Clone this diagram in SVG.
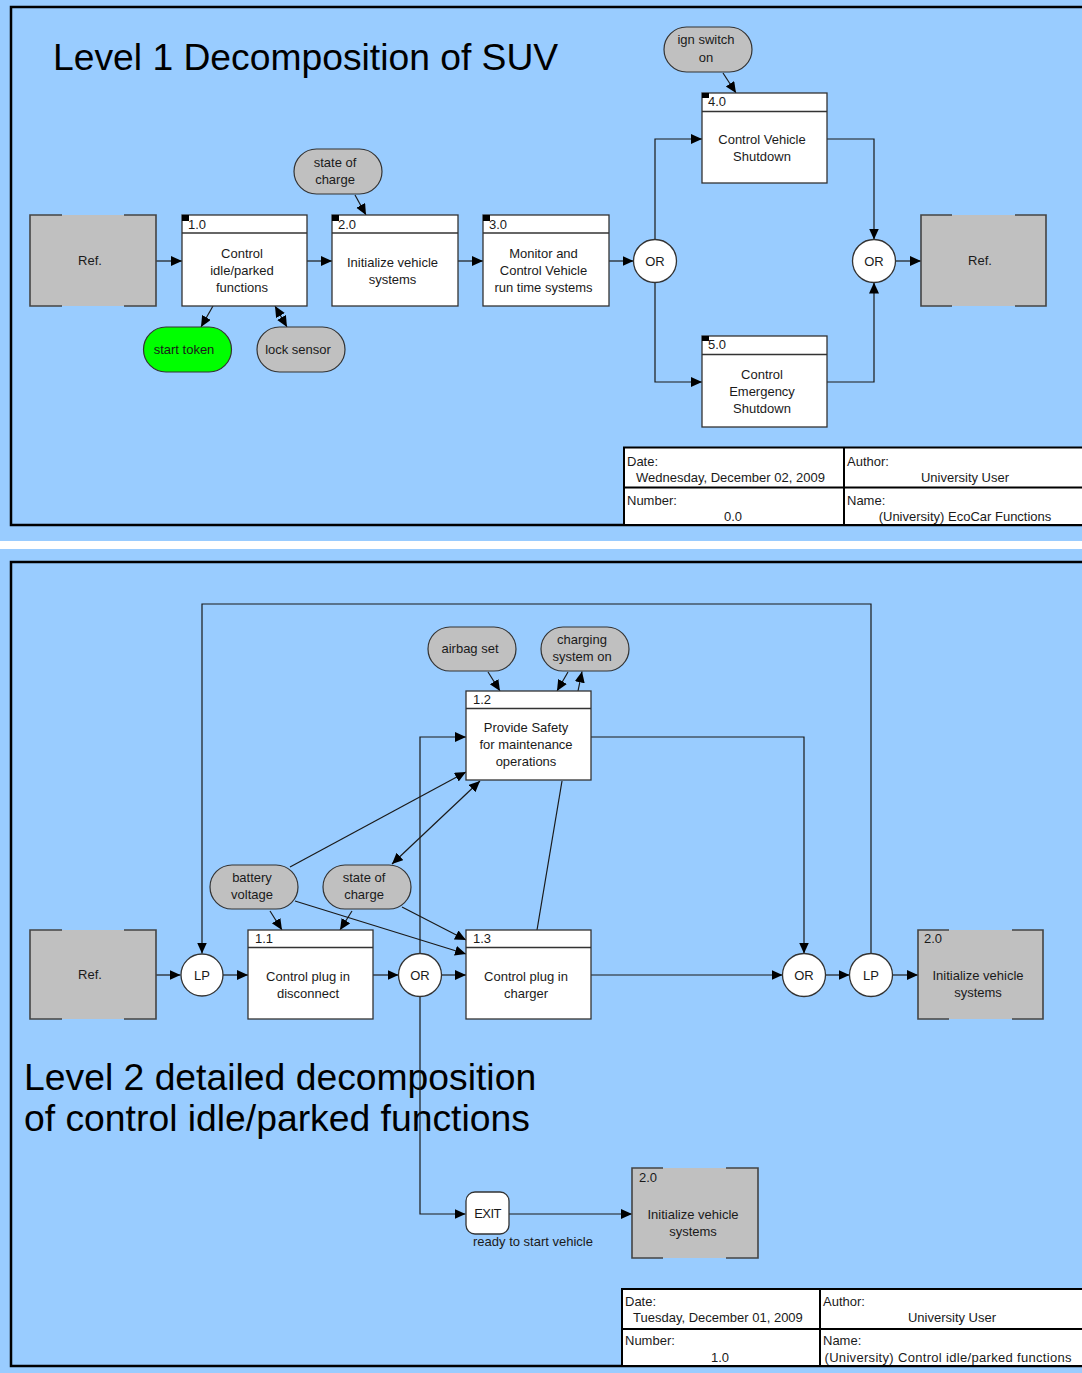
<svg xmlns="http://www.w3.org/2000/svg" width="1082" height="1373" viewBox="0 0 1082 1373">
  <style>
    .t { font-family: "Liberation Sans", Arial, sans-serif; font-size: 13px; fill: #1a1a1a; }
    .c { text-anchor: middle; }
    .title { font-family: "Liberation Sans", Arial, sans-serif; fill: #000; }
    .frame { fill: none; stroke: #000; stroke-width: 2.5; }
    .box { fill: #fff; stroke: #333; stroke-width: 1.3; }
    .hdr { stroke: #333; stroke-width: 1.3; }
    .mark { fill: #000; }
    .pill { fill: #c0c0c0; stroke: #333; stroke-width: 1.2; }
    .green { fill: #00ff00; stroke: #333; stroke-width: 1.2; }
    .ref { fill: #c0c0c0; }
    .bracket { fill: none; stroke: #444; stroke-width: 1.6; }
    .gate { fill: #fff; stroke: #333; stroke-width: 1.3; }
    .conn { fill: none; stroke: #1a1a1a; stroke-width: 1.2; }
    .tb { fill: #fff; stroke: #000; stroke-width: 2; }
    .tbl { stroke: #000; stroke-width: 2; }
  </style>
  <defs>
    <marker id="arr" markerUnits="userSpaceOnUse" markerWidth="12" markerHeight="11" refX="11" refY="5" orient="auto-start-reverse">
      <path d="M0,0 L11,5 L0,10 Z" fill="#000"/>
    </marker>
  </defs>

  <!-- page background -->
  <rect x="0" y="0" width="1082" height="1373" fill="#99ccff"/>
  <rect x="0" y="541" width="1082" height="8" fill="#ffffff"/>

  <!-- sheet frames -->
  <rect class="frame" x="11" y="7" width="1090" height="518"/>
  <rect class="frame" x="11" y="562" width="1090" height="804"/>

  <!-- ===================== Level 1 sheet ===================== -->
  <text class="title" x="53" y="70" font-size="37.25">Level 1 Decomposition of SUV</text>

  <g id="connectors-level1">
    <path class="conn" d="M156,261 H182" marker-end="url(#arr)"/>
    <path class="conn" d="M307,261 H332" marker-end="url(#arr)"/>
    <path class="conn" d="M458,261 H483" marker-end="url(#arr)"/>
    <path class="conn" d="M609,261 H633.5" marker-end="url(#arr)"/>
    <path class="conn" d="M655,239.5 V139 H702" marker-end="url(#arr)"/>
    <path class="conn" d="M655,282.5 V382 H702" marker-end="url(#arr)"/>
    <path class="conn" d="M827,139 H874 V239.5" marker-end="url(#arr)"/>
    <path class="conn" d="M827,382 H874 V282.5" marker-end="url(#arr)"/>
    <path class="conn" d="M895.5,261 H921" marker-end="url(#arr)"/>
    <path class="conn" d="M723,73 L736,93" marker-end="url(#arr)"/>
    <path class="conn" d="M355,195 L366,215" marker-end="url(#arr)"/>
    <path class="conn" d="M213,306 L201,327" marker-end="url(#arr)"/>
    <path class="conn" d="M275,306 L287,327" marker-start="url(#arr)" marker-end="url(#arr)"/>
  </g>

  <g id="ref-in-l1">
    <rect class="ref" x="30" y="215" width="126" height="91"/>
    <path class="bracket" d="M62,215 H30 V306 H62 M124,215 H156 V306 H124"/>
    <text class="t c" x="90" y="265">Ref.</text>
  </g>

  <g id="box-1-0">
    <rect class="box" x="182" y="215" width="125" height="91"/>
    <line class="hdr" x1="182" y1="233" x2="307" y2="233"/>
    <rect class="mark" x="182" y="215" width="7" height="6"/>
    <text class="t" x="188" y="229">1.0</text>
    <text class="t c" x="242" y="258">Control</text>
    <text class="t c" x="242" y="275">idle/parked</text>
    <text class="t c" x="242" y="292">functions</text>
  </g>

  <g id="box-2-0">
    <rect class="box" x="332" y="215" width="126" height="91"/>
    <line class="hdr" x1="332" y1="233" x2="458" y2="233"/>
    <rect class="mark" x="332" y="215" width="7" height="6"/>
    <text class="t" x="338" y="229">2.0</text>
    <text class="t c" x="392.5" y="267">Initialize vehicle</text>
    <text class="t c" x="392.5" y="284">systems</text>
  </g>

  <g id="box-3-0">
    <rect class="box" x="483" y="215" width="126" height="91"/>
    <line class="hdr" x1="483" y1="233" x2="609" y2="233"/>
    <rect class="mark" x="483" y="215" width="7" height="6"/>
    <text class="t" x="489" y="229">3.0</text>
    <text class="t c" x="543.5" y="258">Monitor and</text>
    <text class="t c" x="543.5" y="275">Control Vehicle</text>
    <text class="t c" x="543.5" y="292">run time systems</text>
  </g>

  <g id="box-4-0">
    <rect class="box" x="702" y="93" width="125" height="90"/>
    <line class="hdr" x1="702" y1="111.5" x2="827" y2="111.5"/>
    <rect class="mark" x="702" y="93" width="7" height="5"/>
    <text class="t" x="708" y="106">4.0</text>
    <text class="t c" x="762" y="144">Control Vehicle</text>
    <text class="t c" x="762" y="161">Shutdown</text>
  </g>

  <g id="box-5-0">
    <rect class="box" x="702" y="336" width="125" height="91"/>
    <line class="hdr" x1="702" y1="354.5" x2="827" y2="354.5"/>
    <rect class="mark" x="702" y="336" width="7" height="5"/>
    <text class="t" x="708" y="349">5.0</text>
    <text class="t c" x="762" y="379">Control</text>
    <text class="t c" x="762" y="396">Emergency</text>
    <text class="t c" x="762" y="413">Shutdown</text>
  </g>

  <g id="or-split-l1">
    <circle class="gate" cx="655" cy="261" r="21.5"/>
    <text class="t c" x="655" y="266">OR</text>
  </g>

  <g id="or-join-l1">
    <circle class="gate" cx="874" cy="261" r="21.5"/>
    <text class="t c" x="874" y="266">OR</text>
  </g>

  <g id="ref-out-l1">
    <rect class="ref" x="921" y="215" width="125" height="91"/>
    <path class="bracket" d="M952,215 H921 V306 H952 M1015,215 H1046 V306 H1015"/>
    <text class="t c" x="980" y="265">Ref.</text>
  </g>

  <g id="ign-switch-on">
    <rect class="pill" x="664" y="27" width="88" height="45" rx="22.5"/>
    <text class="t c" x="706" y="44">ign switch</text>
    <text class="t c" x="706" y="62">on</text>
  </g>

  <g id="state-of-charge-l1">
    <rect class="pill" x="294" y="149" width="88" height="45" rx="22.5"/>
    <text class="t c" x="335" y="167">state of</text>
    <text class="t c" x="335" y="184">charge</text>
  </g>

  <g id="start-token">
    <rect class="green" x="143.5" y="327" width="88" height="45" rx="22.5"/>
    <text class="t c" x="184" y="354">start token</text>
  </g>

  <g id="lock-sensor">
    <rect class="pill" x="257" y="327" width="88" height="45" rx="22.5"/>
    <text class="t c" x="298" y="354">lock sensor</text>
  </g>

  <g id="title-block-l1">
    <rect class="tb" x="624" y="447.5" width="470" height="77.5"/>
    <line class="tbl" x1="844" y1="447.5" x2="844" y2="525"/>
    <line class="tbl" x1="624" y1="487.5" x2="1094" y2="487.5"/>
    <text class="t" x="627" y="466">Date:</text>
    <text class="t" x="636" y="482">Wednesday, December 02, 2009</text>
    <text class="t" x="847" y="466">Author:</text>
    <text class="t c" x="965" y="482">University User</text>
    <text class="t" x="627" y="505">Number:</text>
    <text class="t c" x="733" y="521">0.0</text>
    <text class="t" x="847" y="505">Name:</text>
    <text class="t c" x="965" y="521">(University) EcoCar Functions</text>
  </g>

  <!-- ===================== Level 2 sheet ===================== -->
  <text class="title" font-size="37.3">
    <tspan x="24" y="1090">Level 2 detailed decomposition</tspan>
    <tspan x="24" y="1131">of control idle/parked functions</tspan>
  </text>

  <g id="connectors-level2">
    <path class="conn" d="M156,975 H180.5" marker-end="url(#arr)"/>
    <path class="conn" d="M223,975 H248" marker-end="url(#arr)"/>
    <path class="conn" d="M373,975 H398.5" marker-end="url(#arr)"/>
    <path class="conn" d="M441.5,975 H466" marker-end="url(#arr)"/>
    <path class="conn" d="M591,975 H782.5" marker-end="url(#arr)"/>
    <path class="conn" d="M825.5,975 H849.5" marker-end="url(#arr)"/>
    <path class="conn" d="M892.5,975 H918" marker-end="url(#arr)"/>
    <path class="conn" d="M871,953.5 V604 H202 V953.5" marker-end="url(#arr)"/>
    <path class="conn" d="M591,737 H804 V953.5" marker-end="url(#arr)"/>
    <path class="conn" d="M420,953.5 V737 H466" marker-end="url(#arr)"/>
    <path class="conn" d="M420,996.5 V1214 H465.5" marker-end="url(#arr)"/>
    <path class="conn" d="M509,1214 H632" marker-end="url(#arr)"/>
    <path class="conn" d="M488,672 L500,691" marker-end="url(#arr)"/>
    <path class="conn" d="M568,672 L557,691" marker-end="url(#arr)"/>
    <path class="conn" d="M578,691 L582,671.5" marker-end="url(#arr)"/>
    <path class="conn" d="M290,867 L466,772" marker-end="url(#arr)"/>
    <path class="conn" d="M392,864 L480,781" marker-start="url(#arr)" marker-end="url(#arr)"/>
    <path class="conn" d="M537,930 L562,781"/>
    <path class="conn" d="M270,911 L282,930" marker-end="url(#arr)"/>
    <path class="conn" d="M352,911 L340,930" marker-end="url(#arr)"/>
    <path class="conn" d="M402,907 L466,940" marker-end="url(#arr)"/>
    <path class="conn" d="M295,901 L466,954" marker-end="url(#arr)"/>
  </g>

  <g id="ref-in-l2">
    <rect class="ref" x="30" y="930" width="126" height="89"/>
    <path class="bracket" d="M62,930 H30 V1019 H62 M124,930 H156 V1019 H124"/>
    <text class="t c" x="90" y="979">Ref.</text>
  </g>

  <g id="lp-in">
    <circle class="gate" cx="202" cy="975" r="21"/>
    <text class="t c" x="202" y="980">LP</text>
  </g>

  <g id="box-1-1">
    <rect class="box" x="248" y="930" width="125" height="89"/>
    <line class="hdr" x1="248" y1="947.5" x2="373" y2="947.5"/>
    <text class="t" x="255" y="943">1.1</text>
    <text class="t c" x="308" y="981">Control plug in</text>
    <text class="t c" x="308" y="998">disconnect</text>
  </g>

  <g id="or-split-l2">
    <circle class="gate" cx="420" cy="975" r="21.5"/>
    <text class="t c" x="420" y="980">OR</text>
  </g>

  <g id="box-1-3">
    <rect class="box" x="466" y="930" width="125" height="89"/>
    <line class="hdr" x1="466" y1="947.5" x2="591" y2="947.5"/>
    <text class="t" x="473" y="943">1.3</text>
    <text class="t c" x="526" y="981">Control plug in</text>
    <text class="t c" x="526" y="998">charger</text>
  </g>

  <g id="box-1-2">
    <rect class="box" x="466" y="691" width="125" height="89"/>
    <line class="hdr" x1="466" y1="708.5" x2="591" y2="708.5"/>
    <text class="t" x="473" y="704">1.2</text>
    <text class="t c" x="526" y="732">Provide Safety</text>
    <text class="t c" x="526" y="749">for maintenance</text>
    <text class="t c" x="526" y="766">operations</text>
  </g>

  <g id="airbag-set">
    <rect class="pill" x="428" y="627" width="88" height="44" rx="22"/>
    <text class="t c" x="470" y="653">airbag set</text>
  </g>

  <g id="charging-system-on">
    <rect class="pill" x="541" y="627" width="88" height="44" rx="22"/>
    <text class="t c" x="582" y="644">charging</text>
    <text class="t c" x="582" y="661">system on</text>
  </g>

  <g id="battery-voltage">
    <rect class="pill" x="210" y="865" width="88" height="44" rx="22"/>
    <text class="t c" x="252" y="882">battery</text>
    <text class="t c" x="252" y="899">voltage</text>
  </g>

  <g id="state-of-charge-l2">
    <rect class="pill" x="323" y="865" width="88" height="44" rx="22"/>
    <text class="t c" x="364" y="882">state of</text>
    <text class="t c" x="364" y="899">charge</text>
  </g>

  <g id="or-join-l2">
    <circle class="gate" cx="804" cy="975" r="21.5"/>
    <text class="t c" x="804" y="980">OR</text>
  </g>

  <g id="lp-out">
    <circle class="gate" cx="871" cy="975" r="21.5"/>
    <text class="t c" x="871" y="980">LP</text>
  </g>

  <g id="ref-init-systems">
    <rect class="ref" x="918" y="930" width="125" height="89"/>
    <path class="bracket" d="M949,930 H918 V1019 H949 M1012,930 H1043 V1019 H1012"/>
    <text class="t" x="924" y="943">2.0</text>
    <text class="t c" x="978" y="980">Initialize vehicle</text>
    <text class="t c" x="978" y="997">systems</text>
  </g>

  <g id="exit">
    <rect class="gate" x="466" y="1192" width="43" height="42" rx="9"/>
    <text class="t c" x="487.5" y="1218" letter-spacing="-0.6">EXIT</text>
    <text class="t" x="473" y="1246">ready to start vehicle</text>
  </g>

  <g id="ref-init-systems-exit">
    <rect class="ref" x="632" y="1168" width="126" height="90"/>
    <path class="bracket" d="M663,1168 H632 V1258 H663 M726,1168 H758 V1258 H726"/>
    <text class="t" x="639" y="1182">2.0</text>
    <text class="t c" x="693" y="1219">Initialize vehicle</text>
    <text class="t c" x="693" y="1236">systems</text>
  </g>

  <g id="title-block-l2">
    <rect class="tb" x="622" y="1289" width="470" height="77"/>
    <line class="tbl" x1="820" y1="1289" x2="820" y2="1366"/>
    <line class="tbl" x1="622" y1="1329" x2="1092" y2="1329"/>
    <text class="t" x="625" y="1306">Date:</text>
    <text class="t" x="633" y="1322">Tuesday, December 01, 2009</text>
    <text class="t" x="823" y="1306">Author:</text>
    <text class="t c" x="952" y="1322">University User</text>
    <text class="t" x="625" y="1345">Number:</text>
    <text class="t c" x="720" y="1362">1.0</text>
    <text class="t" x="823" y="1345">Name:</text>
    <text class="t c" x="948" y="1362" textLength="247">(University) Control idle/parked functions</text>
  </g>
</svg>
